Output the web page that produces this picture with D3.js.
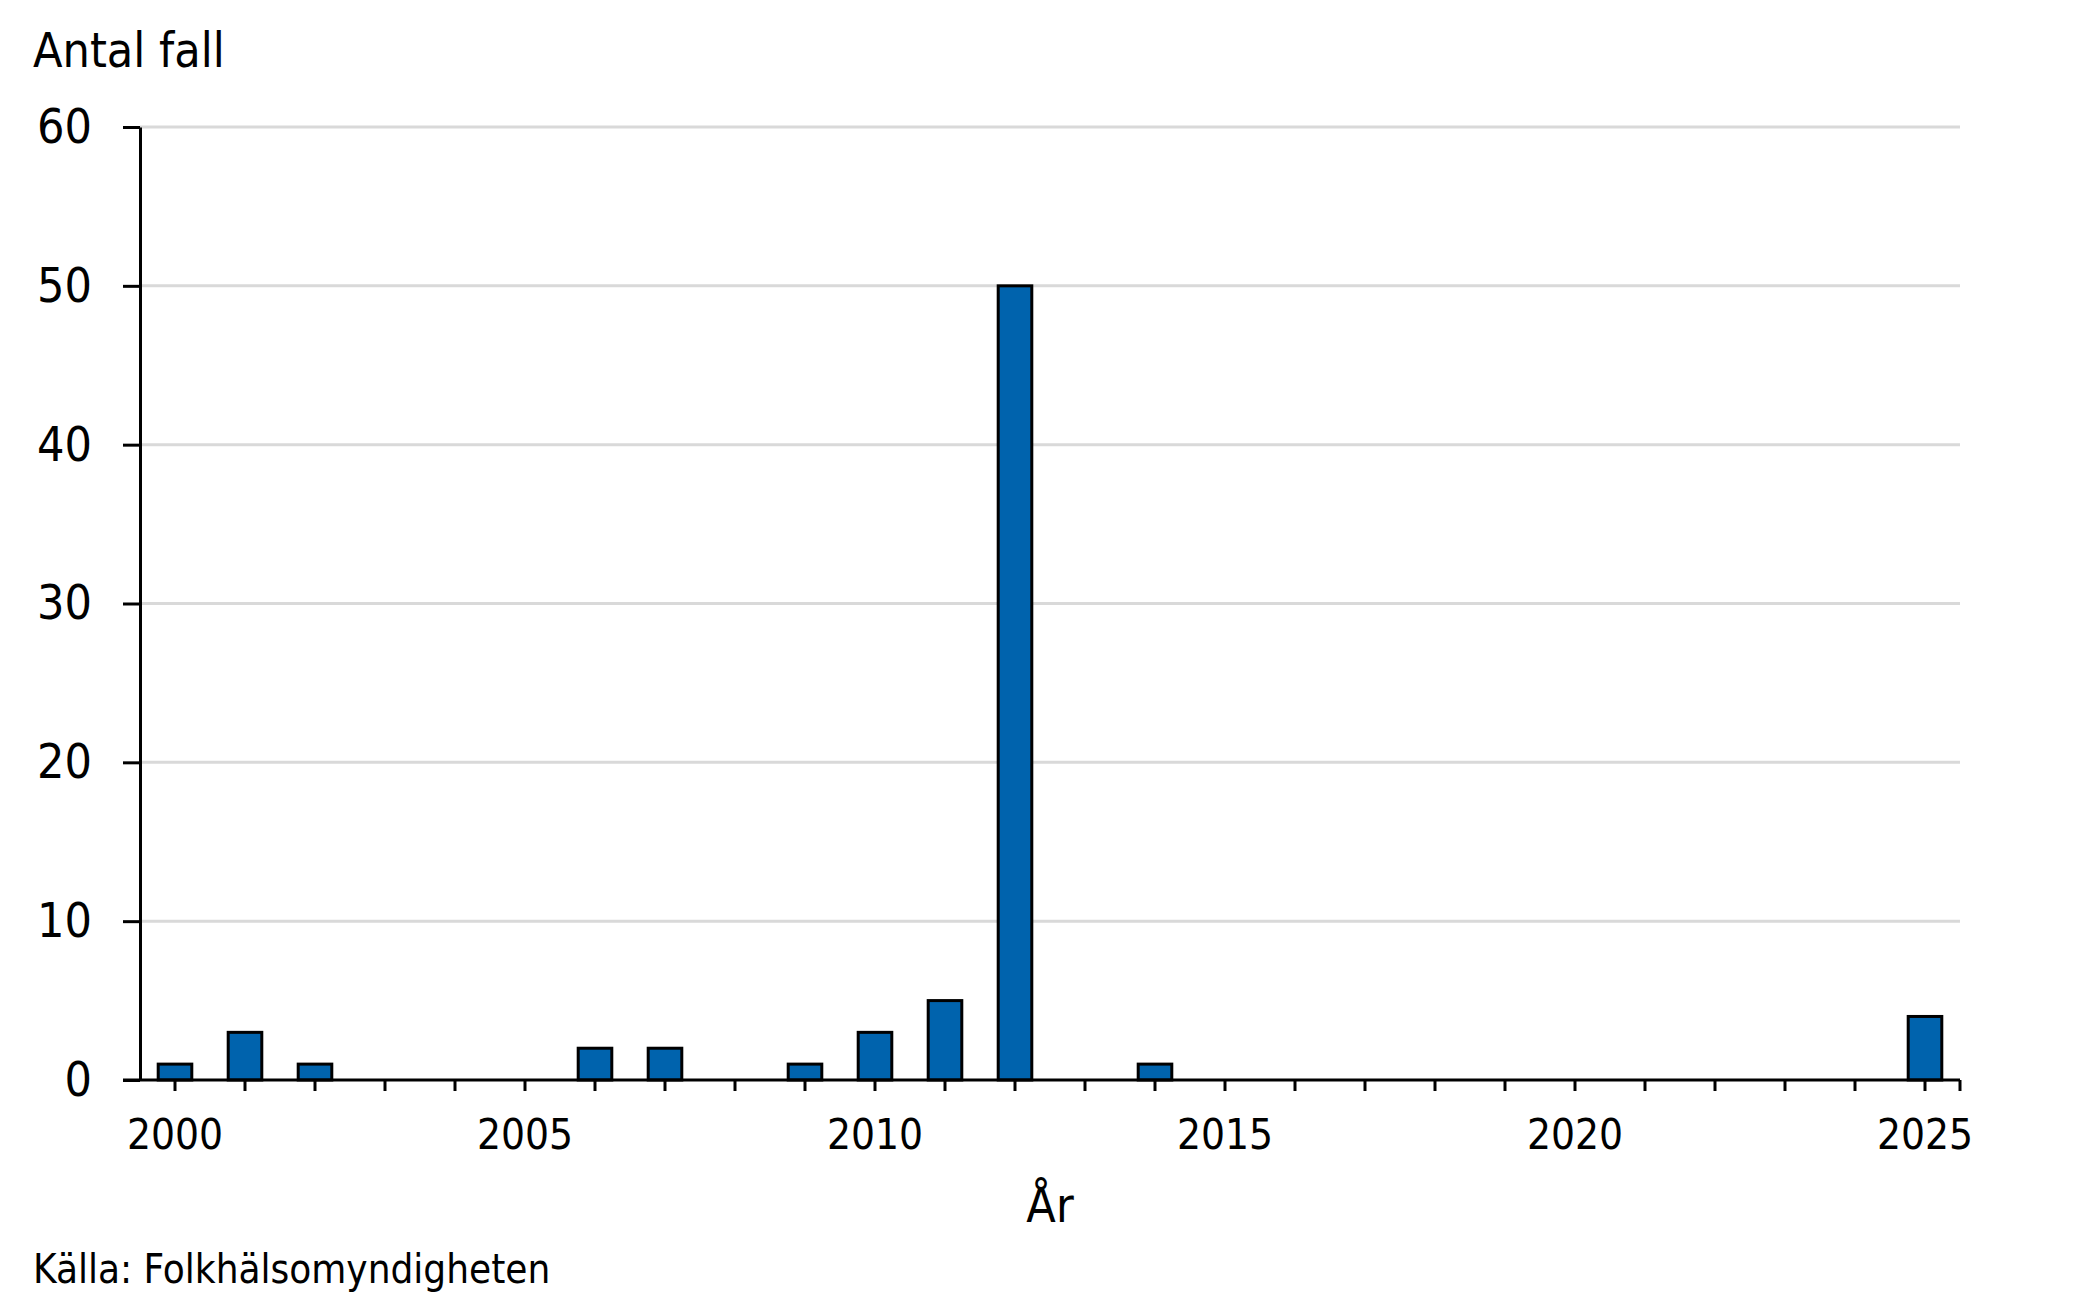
<!DOCTYPE html>
<html>
<head>
<meta charset="utf-8">
<script src="https://cdn.jsdelivr.net/npm/d3@7"></script>
<style>
  html, body { margin: 0; padding: 0; background: #fff; }
  svg { display: block; font-family: "DejaVu Sans Condensed", "DejaVu Sans", sans-serif; font-stretch: condensed; }
</style>
</head>
<body>
<svg width="2079" height="1300"></svg>
<script>
// data
const years = d3.range(2000, 2026);
const cases = [1, 3, 1, 0, 0, 0, 2, 2, 0, 1, 3, 5, 50, 0, 1, 0, 0, 0, 0, 0, 0, 0, 0, 0, 0, 4];
const yTicks = [0, 10, 20, 30, 40, 50, 60];
const xLabelYears = [2000, 2005, 2010, 2015, 2020, 2025];

const svg = d3.select("svg");
const plotLeft = 140, plotRight = 1960, plotTop = 127, plotBottom = 1080;

const x = d3.scaleBand().domain(years).range([plotLeft, plotRight]).paddingInner(0.52).paddingOuter(0.26);
const y = d3.scaleLinear().domain([0, 60]).range([plotBottom, plotTop]);

// gridlines
svg.append("g")
  .selectAll("line")
  .data(yTicks.filter(d => d > 0))
  .enter()
  .append("line")
  .attr("x1", plotLeft)
  .attr("x2", plotRight)
  .attr("y1", d => y(d))
  .attr("y2", d => y(d))
  .attr("stroke", "#d9d9d9")
  .attr("stroke-width", 3);

// bars (nollvärden ritas inte)
svg.append("g")
  .selectAll("rect")
  .data(years.map((yr, i) => ({ yr, v: cases[i] })).filter(d => d.v > 0))
  .enter()
  .append("rect")
  .attr("x", d => x(d.yr))
  .attr("y", d => y(d.v))
  .attr("width", x.bandwidth())
  .attr("height", d => plotBottom - y(d.v))
  .attr("fill", "#0063ad")
  .attr("stroke", "#000")
  .attr("stroke-width", 3);

// y axis
const yAxis = svg.append("g")
  .attr("transform", `translate(${plotLeft},0)`)
  .call(d3.axisLeft(y).tickValues(yTicks).tickSize(17).tickPadding(31).tickSizeOuter(0));
yAxis.select(".domain").attr("stroke-width", 3);
yAxis.selectAll(".tick line").attr("stroke-width", 3);
yAxis.selectAll(".tick text")
  .attr("font-size", 48)
  .attr("fill", "#000");
yAxis.attr("font-family", null).attr("font-size", null);

// x axis
const xAxis = svg.append("g")
  .attr("transform", `translate(0,${plotBottom})`);
xAxis.append("line")
  .attr("x1", plotLeft - 17)
  .attr("x2", plotRight)
  .attr("stroke", "#000")
  .attr("stroke-width", 3);
xAxis.selectAll(".xt")
  .data(years.map(yr => x(yr) + x.bandwidth() / 2).concat([plotRight]))
  .enter()
  .append("line")
  .attr("class", "xt")
  .attr("x1", d => d)
  .attr("x2", d => d)
  .attr("y1", 0)
  .attr("y2", 11)
  .attr("stroke", "#000")
  .attr("stroke-width", 3);
xAxis.selectAll(".xl")
  .data(xLabelYears)
  .enter()
  .append("text")
  .attr("class", "xl")
  .attr("x", d => x(d) + x.bandwidth() / 2)
  .attr("y", 69)
  .attr("text-anchor", "middle")
  .attr("font-size", 42)
  .text(d => d);

// titles
svg.append("text")
  .attr("x", 33)
  .attr("y", 67)
  .attr("font-size", 48)
  .text("Antal fall");

svg.append("text")
  .attr("x", (plotLeft + plotRight) / 2)
  .attr("y", 1222)
  .attr("text-anchor", "middle")
  .attr("font-size", 48)
  .text("År");

svg.append("text")
  .attr("x", 33)
  .attr("y", 1283)
  .attr("font-size", 40)
  .text("Källa: Folkhälsomyndigheten");
</script>
</body>
</html>
